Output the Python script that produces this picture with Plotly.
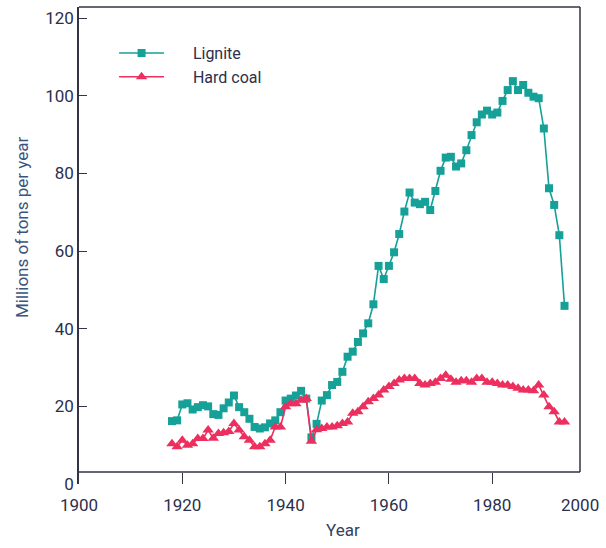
import plotly.graph_objects as go

years = list(range(1918, 1995))

lignite = [16.2, 16.4, 20.5, 20.8, 19.2, 19.8, 20.3, 20.0, 18.0, 17.8,
           19.5, 21.0, 22.8, 19.8, 18.5, 16.8, 14.7, 14.3, 14.6, 15.6,
           16.4, 18.5, 21.5, 22.0, 22.8, 24.0, 22.0, 12.0, 15.5, 21.5,
           22.9, 25.5, 26.3, 28.9, 32.8, 34.1, 36.6, 38.8, 41.4, 46.3,
           56.2, 52.8, 56.2, 59.7, 64.4, 70.2, 75.1, 72.5, 72.1, 72.7,
           70.6, 75.5, 80.7, 84.1, 84.3, 81.8, 82.6, 86.0, 89.9, 93.2,
           95.2, 96.2, 95.2, 95.7, 98.7, 101.5, 103.8, 101.5, 102.8, 100.8,
           99.8, 99.4, 91.6, 76.2, 71.9, 64.1, 45.9]

hard_coal = [10.4, 9.6, 11.3, 10.0, 10.4, 11.7, 11.7, 13.9, 11.8, 13.0,
             13.2, 13.5, 15.6, 13.9, 12.2, 11.3, 9.6, 9.6, 10.4, 11.3,
             14.7, 14.7, 19.9, 20.7, 20.7, 21.6, 22.0, 11.0, 14.0, 14.3,
             14.7, 14.7, 15.0, 15.6, 16.0, 18.2, 18.6, 19.9, 21.2, 22.0,
             22.9, 24.2, 25.1, 25.9, 26.8, 27.2, 27.2, 27.2, 25.9, 25.5,
             25.9, 26.2, 27.2, 28.0, 27.0, 26.2, 26.6, 26.6, 26.2, 27.2,
             27.2, 26.2, 26.2, 25.9, 25.5, 25.5, 25.1, 24.7, 24.2, 24.2,
             24.0, 25.5, 22.9, 19.9, 18.6, 16.0, 16.0]

x_tickvals = [1900, 1920, 1940, 1960, 1980]
y_tickvals = [0, 20, 40, 60, 80, 100, 120]

TEAL = "#15a098"
RED = "#ec2f5e"
INK = "#2c2f4c"
AXIS = "#333344"
FONT = "Roboto, Liberation Sans Narrow, sans-serif"
GAP = "\u00a0" * 6

fig = go.Figure()
fig.add_trace(go.Scatter(
    x=years, y=lignite, name=GAP + "Lignite", mode="lines+markers",
    line=dict(color=TEAL, width=1.6),
    marker=dict(symbol="square", size=8, color=TEAL),
))
fig.add_trace(go.Scatter(
    x=years, y=hard_coal, name=GAP + "Hard coal", mode="lines+markers",
    line=dict(color=RED, width=1.6),
    marker=dict(symbol="triangle-up", size=10, color=RED),
))

XPOS = 0.025  # the x-axis rule sits slightly above y = 0, as in the reference
fig.update_layout(
    width=606, height=548,
    margin=dict(l=79, r=26, t=7, b=64, autoexpand=False),
    paper_bgcolor="white", plot_bgcolor="white",
    font=dict(family=FONT, color=INK, size=16),
    showlegend=True,
    legend=dict(x=0.07, y=0.939, xanchor="left", yanchor="top",
                bgcolor="rgba(0,0,0,0)", itemwidth=45,
                font=dict(size=16, color=INK), tracegroupgap=2),
    xaxis=dict(range=[1900, 1997], tickvals=x_tickvals,
               ticks="inside", ticklen=11, tickwidth=1.3, tickcolor=AXIS,
               showline=False, showgrid=False, zeroline=False,
               automargin=False, ticklabelstandoff=9,
               tickfont=dict(size=17, color=INK)),
    yaxis=dict(range=[0, 122.9], tickvals=y_tickvals,
               ticks="inside", ticklen=8, tickwidth=1.3, tickcolor=AXIS,
               showline=True, linecolor=AXIS, linewidth=1.5,
               showgrid=False, zeroline=False, automargin=False,
               tickfont=dict(size=17, color=INK)),
    annotations=[
        dict(x=1, xref="paper", y=0, yref="paper",
             text="2000", showarrow=False, xanchor="center",
             yanchor="top", yshift=-9,
             font=dict(size=17, color=INK, family=FONT)),
        dict(x=0.5, xref="paper", y=0, yref="paper",
             text="Year", showarrow=False, xanchor="center", yanchor="middle",
             font=dict(size=17, color="#34405e", family=FONT)),
        dict(x=0, xref="paper", y=0.5, yref="paper",
             text="Millions of tons per year", showarrow=False,
             textangle=-90, xanchor="center", yanchor="middle",
             font=dict(size=17, color="#38557f", family=FONT)),
    ],
    shapes=[
        # frame: bottom rule, top rule, right rule
        dict(type="line", xref="paper", yref="paper", x0=0, x1=1, y0=XPOS, y1=XPOS,
             line=dict(color=AXIS, width=1.5)),
        dict(type="line", xref="paper", yref="paper", x0=0, x1=1, y0=1, y1=1,
             line=dict(color=AXIS, width=1.5)),
        dict(type="line", xref="paper", yref="paper", x0=1, x1=1, y0=XPOS, y1=1,
             line=dict(color=AXIS, width=1.5)),
    ],
)

# place the two axis titles at the reference's pixel positions
plot_l, plot_r, plot_t, plot_b = 79, 606 - 26, 7, 548 - 64
pw, ph = plot_r - plot_l, plot_b - plot_t
fig.layout.annotations[1].x = (343 - plot_l) / pw
fig.layout.annotations[1].y = (plot_b - 530) / ph
fig.layout.annotations[2].x = (22 - plot_l) / pw
fig.layout.annotations[2].y = (plot_b - 228) / ph

fig.write_html("out.html",
               config={"displayModeBar": False},
               post_script="document.body.style.margin='0px';")
